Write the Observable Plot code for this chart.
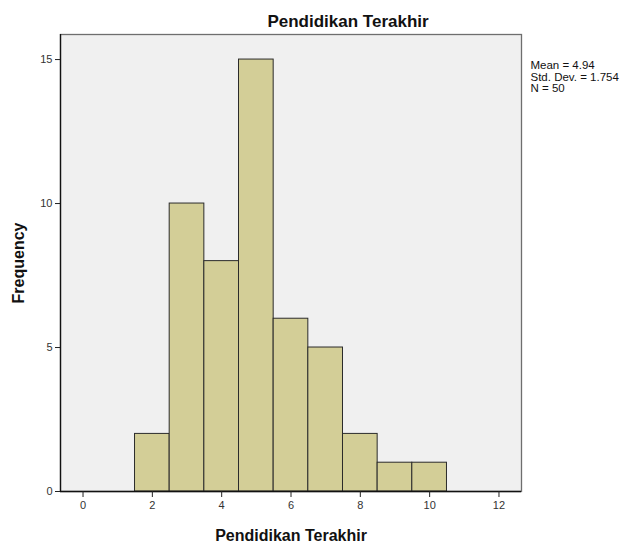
<!DOCTYPE html>
<html>
<head>
<meta charset="utf-8">
<script src="https://cdn.jsdelivr.net/npm/d3@7"></script>
<script src="https://cdn.jsdelivr.net/npm/@observablehq/plot@0.6"></script>
<style>
  html, body { margin: 0; padding: 0; background: #fff; }
  svg { font-family: "Liberation Sans", Arial, sans-serif; }
</style>
</head>
<body>
<div id="chart"></div>
<script>
const binCenters = [2, 3, 4, 5, 6, 7, 8, 9, 10];
const frequencies = [2, 10, 8, 15, 6, 5, 2, 1, 1];
const xTicks = [0, 2, 4, 6, 8, 10, 12];
const yTicks = [0, 5, 10, 15];
const titleText = "Pendidikan Terakhir";
const xLabel = "Pendidikan Terakhir";
const yLabel = "Frequency";
const statsLines = ["Mean = 4.94", "Std. Dev. = 1.754", "N = 50"];

const data = binCenters.map((c, i) => ({x1: c - 0.5, x2: c + 0.5, count: frequencies[i]}));
const xDomain = [-0.65, 12.65];

const chart = Plot.plot({
  width: 626,
  height: 544,
  marginTop: 34,
  marginBottom: 53,
  marginLeft: 60,
  marginRight: 105,
  style: {fontFamily: "'Liberation Sans', Arial, sans-serif", background: "#fff"},
  x: {domain: xDomain},
  y: {domain: [0, 15.87]},
  marks: [
    Plot.frame({fill: "#f0f0f0", stroke: "#6e6e6e", strokeWidth: 1.3}),
    Plot.rectY(data, {x1: "x1", x2: "x2", y: "count", fill: "#d3ce97", stroke: "#2b2b2b", strokeWidth: 1}),
    Plot.ruleX([xDomain[0]], {stroke: "#111", strokeWidth: 1.3}),
    Plot.ruleY([0], {stroke: "#111", strokeWidth: 1.3}),
    Plot.axisX({ticks: xTicks, tickSize: 6, tickPadding: 4, fontSize: 11, color: "#333", stroke: "#222", label: null}),
    Plot.axisY({ticks: yTicks, tickSize: 5, tickPadding: 3, fontSize: 11, color: "#333", stroke: "#222", label: null}),
    Plot.text([titleText], {frameAnchor: "top", text: d => d, dx: 57, dy: -8, lineAnchor: "bottom", fontSize: 17, fontWeight: "bold", fill: "#111"}),
    Plot.text([xLabel], {frameAnchor: "bottom", text: d => d, dy: 49, lineAnchor: "bottom", fontSize: 16, fontWeight: "bold", fill: "#111"}),
    Plot.text([yLabel], {frameAnchor: "left", text: d => d, dx: -42, rotate: -90, textAnchor: "middle", fontSize: 16, fontWeight: "bold", fill: "#111"}),
    Plot.text([statsLines.join("\n")], {frameAnchor: "top-right", text: d => d, dx: 9, dy: 27, textAnchor: "start", lineAnchor: "top", lineHeight: 0.97, fontSize: 11.5, fill: "#111"})
  ]
});
document.getElementById("chart").appendChild(chart);
</script>
</body>
</html>
